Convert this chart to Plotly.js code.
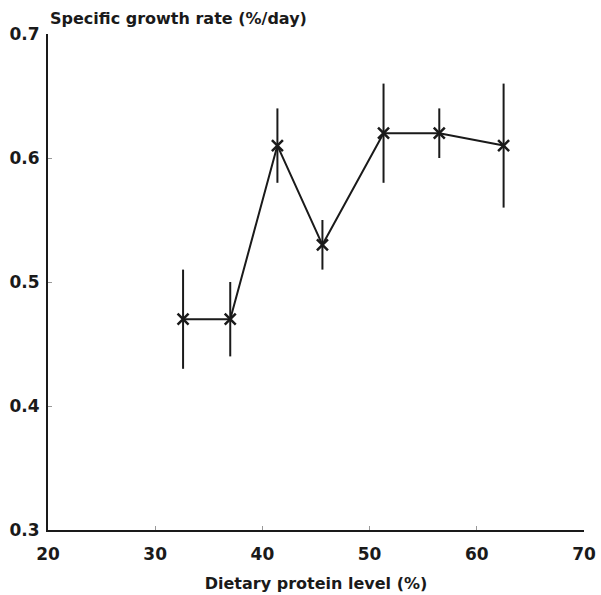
<!DOCTYPE html>
<html>
<head>
<meta charset="utf-8">
<script src="https://cdn.plot.ly/plotly-3.0.1.min.js"></script>
<style>body{margin:0;background:#fff}#chart{width:601px;height:595px}</style>
</head>
<body>
<div id="chart"></div>
<script>
const proteinLevel = [32.6, 37.0, 41.4, 45.6, 51.3, 56.5, 62.5];
const growthRate = [0.47, 0.47, 0.61, 0.53, 0.62, 0.62, 0.61];
const errorSD = [0.04, 0.03, 0.03, 0.02, 0.04, 0.02, 0.05];
const xTicks = [20, 30, 40, 50, 60, 70];
const yTicks = [0.3, 0.4, 0.5, 0.6, 0.7];

const fontFam = 'DejaVu Sans, Arial, sans-serif';
const ink = '#1a1a1a';

const trace = {
  x: proteinLevel,
  y: growthRate,
  mode: 'lines+markers',
  type: 'scatter',
  line: {color: ink, width: 2},
  marker: {symbol: 'x-thin-open', size: 11, line: {color: ink, width: 2.5}, color: ink},
  error_y: {type: 'data', array: errorSD, visible: true, color: ink, thickness: 2, width: 0},
  showlegend: false,
  hoverinfo: 'none'
};

const layout = {
  width: 601, height: 595,
  margin: {l: 48, r: 17, t: 34, b: 65},
  paper_bgcolor: '#fff', plot_bgcolor: '#fff',
  font: {family: fontFam, color: ink},
  xaxis: {
    range: [20, 70], tickvals: xTicks, ticktext: xTicks.map(String),
    showgrid: false, zeroline: false,
    showline: true, linecolor: ink, linewidth: 2,
    ticks: 'inside', ticklen: 4, tickcolor: '#999', tickwidth: 1,
    ticklabelstandoff: 8,
    tickfont: {family: fontFam, size: 17, color: ink, weight: 'bold'},
    title: {text: '<b>Dietary protein level (%)</b>', font: {family: fontFam, size: 16, color: ink}, standoff: 14}
  },
  yaxis: {
    range: [0.3, 0.7], tickvals: yTicks, ticktext: yTicks.map(v => v.toFixed(1)),
    showgrid: false, zeroline: false,
    showline: true, linecolor: ink, linewidth: 2,
    ticks: 'inside', ticklen: 4, tickcolor: '#999', tickwidth: 1,
    ticklabelstandoff: 3,
    tickfont: {family: fontFam, size: 17, color: ink, weight: 'bold'}
  },
  annotations: [{
    text: '<b>Specific growth rate (%/day)</b>',
    xref: 'paper', yref: 'paper', x: 0, y: 1, xanchor: 'left', yanchor: 'bottom',
    yshift: 4, xshift: 0, showarrow: false,
    font: {family: fontFam, size: 16, color: ink}
  }]
};

Plotly.newPlot('chart', [trace], layout, {displayModeBar: false, staticPlot: true});
</script>
</body>
</html>
